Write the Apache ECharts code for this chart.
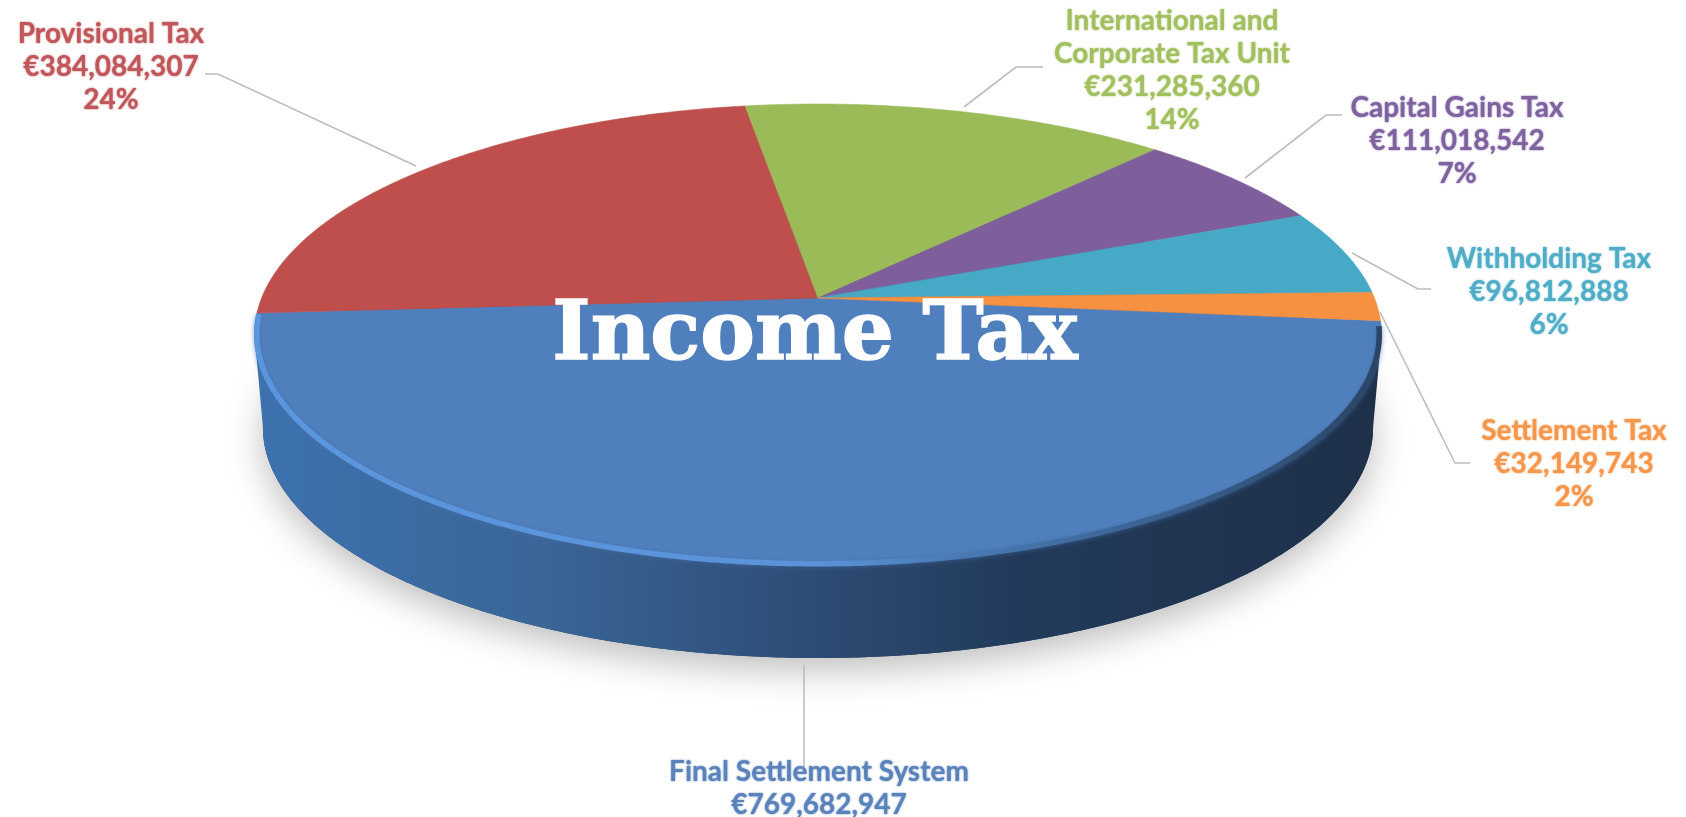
<!DOCTYPE html>
<html>
<head>
<meta charset="utf-8">
<style>html,body{margin:0;padding:0;background:#fff}#c{width:1686px;height:817px}</style>
<script src="https://cdn.jsdelivr.net/npm/echarts@6/dist/echarts.min.js"></script>
</head>
<body>
<div id="c"></div>
<script>
// ---- data ----
const chartTitle = 'Income Tax';
const categories = ['Final Settlement System', 'Provisional Tax', 'International and\nCorporate Tax Unit', 'Capital Gains Tax', 'Withholding Tax', 'Settlement Tax'];
const values = [769682947, 384084307, 231285360, 111018542, 96812888, 32149743];
const percentLabels = ['', '24%', '14%', '7%', '6%', '2%'];
const colors = ['#4F80BD', '#BE4F4C', '#9BBB59', '#7F5F9B', '#46A9C5', '#F59140'];
const labelColors = ['#5b83bb', '#c0575a', '#a3c060', '#7f62a0', '#4fadc8', '#f5964a'];

// ---- layout (3D disc projection and label placement) ----
const disc = { cx: 818, cy: 298, rx: 556.4, ry: 224.7, k: 0.1584, depth: 93, baseScale: 0.985, startDeg: 5.7 };
const labelCenters = [[819, 772], [111, 34], [1172, 21], [1457, 108], [1549, 259], [1574, 431]];
const leaders = [
  [[804, 665], [804, 767]],
  [[205, 74], [218, 74], [416, 166]],
  [[1043, 67], [1016, 67], [964, 107]],
  [[1342, 115], [1326, 115], [1245, 178]],
  [[1431, 289], [1418, 289], [1352, 253]],
  [[1470, 463], [1455, 463], [1380, 312]]
];
const lineStep = 33;

function project(deg, r, dy, s) {
  const a = deg * Math.PI / 180;
  const u = Math.cos(a) * r, v = Math.sin(a) * r;
  const p = 1 / (1 - disc.k * v);
  return [disc.cx + disc.rx * u * p * (s || 1), disc.cy + disc.ry * v * p + (dy || 0)];
}
function arc(from, to, r, dy, s) {
  const pts = [], n = Math.max(2, Math.ceil(Math.abs(to - from) * 2));
  for (let i = 0; i <= n; i++) pts.push(project(from + (to - from) * i / n, r, dy, s));
  return pts;
}
const total = values.reduce((a, b) => a + b, 0);
const silhouette = Math.asin(disc.k) * 180 / Math.PI;

function fmt(v) { return '€' + v.toLocaleString('en-US'); }

function renderSlice(params, api) {
  const i = params.dataIndex;
  let before = 0;
  for (let j = 0; j < i; j++) before += values[j];
  const from = disc.startDeg + before / total * 360;
  const to = from + api.value(0) / total * 360;
  const children = [];
  if (i === 0) {
    const front = arc(silhouette, 180 - silhouette, 1);
    const base = arc(180 - silhouette, silhouette, 1, disc.depth, disc.baseScale);
    const baseFull = arc(0, 360, 1, disc.depth, disc.baseScale);
    children.push({
      type: 'polygon', shape: { points: baseFull },
      style: { fill: '#2a4468', shadowBlur: 36, shadowColor: 'rgba(0,0,0,0.26)', shadowOffsetY: 12 }
    });
    children.push({
      type: 'polygon', shape: { points: front.concat(base) },
      style: {
        fill: new echarts.graphic.LinearGradient(0, 0, 1, 0, [
          { offset: 0, color: '#3D72AF' }, { offset: 0.25, color: '#3A6698' },
          { offset: 0.5, color: '#2D4C74' }, { offset: 0.68, color: '#223A5A' },
          { offset: 1, color: '#1E3049' }
        ])
      }
    });
  }
  children.push({
    type: 'polygon',
    shape: { points: [project(0, 0)].concat(arc(from, to, 1)) },
    style: { fill: colors[i], stroke: colors[i], lineWidth: 0.6 }
  });
  if (i === 0) {
    children.push({
      type: 'polyline',
      shape: { points: arc(silhouette - 2, 180 - silhouette + 5, 0.996) },
      style: {
        fill: null, lineWidth: 5.5, shadowBlur: 5, shadowColor: 'rgba(70,110,170,0.7)',
        stroke: new echarts.graphic.LinearGradient(0, 0, 1, 0, [
          { offset: 0, color: '#5A96DE' }, { offset: 0.5, color: '#5B93D8' },
          { offset: 0.62, color: '#4A7BB6' }, { offset: 0.8, color: '#3A6292' }, { offset: 1, color: '#2A4566' }
        ])
      }
    });
  }
  children.push({
    type: 'polyline', shape: { points: leaders[i] },
    style: { fill: null, stroke: '#bdbdbd', lineWidth: 1.6 }
  });
  const lines = categories[i].split('\n').concat([fmt(values[i])]);
  if (percentLabels[i]) lines.push(percentLabels[i]);
  lines.forEach((t, n) => {
    children.push({
      type: 'text', z2: 5,
      style: {
        text: t, x: labelCenters[i][0], y: labelCenters[i][1] + n * lineStep,
        align: 'center', verticalAlign: 'middle', fill: labelColors[i],
        font: 'bold 28px "Lato"', textShadowBlur: 2, textShadowColor: labelColors[i]
      }
    });
  });
  return { type: 'group', children };
}

const chart = echarts.init(document.getElementById('c'), null, { renderer: 'canvas' });
chart.setOption({
  animation: false,
  backgroundColor: '#ffffff',
  title: {
    text: chartTitle, left: 810, top: 292, textAlign: 'center', z: 20,
    textStyle: { color: '#ffffff', fontFamily: '"DejaVu Serif"', fontWeight: 'bold', fontSize: 82, textBorderColor: '#ffffff', textBorderWidth: 1.5 }
  },
  series: [{
    type: 'custom', coordinateSystem: 'none', silent: true,
    data: values.map((v, i) => ({ name: categories[i], value: [v] })),
    renderItem: renderSlice
  }]
});
</script>
</body>
</html>
